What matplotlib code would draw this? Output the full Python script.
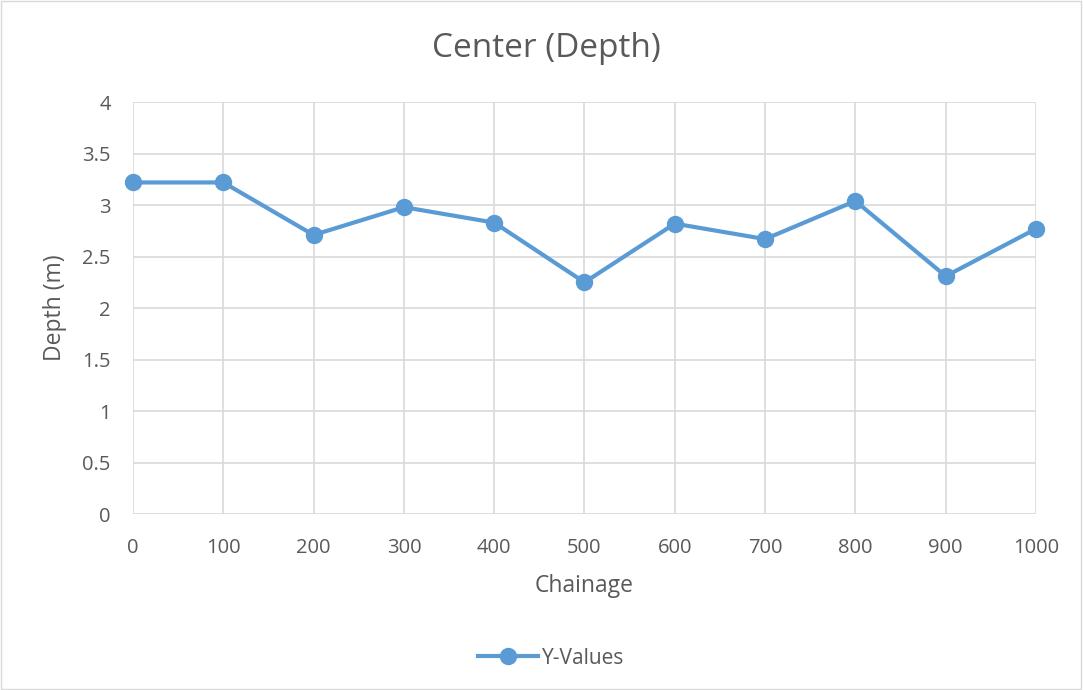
import matplotlib
matplotlib.use("Agg")
import matplotlib.pyplot as plt
from matplotlib.patches import Rectangle

# chart data
chainage = [0, 100, 200, 300, 400, 500, 600, 700, 800, 900, 1000]
depth = [3.22, 3.22, 2.71, 2.98, 2.83, 2.25, 2.82, 2.67, 3.04, 2.31, 2.77]
x_ticks = [0, 100, 200, 300, 400, 500, 600, 700, 800, 900, 1000]
y_ticks = [0, 0.5, 1, 1.5, 2, 2.5, 3, 3.5, 4]

line_color = '#5B9BD5'
text_color = '#595959'
grid_color = '#D9D9D9'

plt.rcParams['font.family'] = ['Open Sans', 'DejaVu Sans']

fig = plt.figure(figsize=(10.83, 6.90), dpi=100)
ax = fig.add_axes([0.1228, 0.255, 0.9566 - 0.1228, 0.852 - 0.255])

ax.plot(chainage, depth, color=line_color, linewidth=3, marker='o',
        markersize=11.5, label='Y-Values', zorder=3, clip_on=False)

ax.set_xlim(0, 1000)
ax.set_ylim(0, 4)
ax.set_xticks(x_ticks)
ax.set_yticks(y_ticks)
ax.set_yticklabels([f"{v:g}" for v in y_ticks])
ax.grid(True, color=grid_color, linewidth=1.2)
ax.set_axisbelow(True)
for s in ax.spines.values():
    s.set_visible(False)
ax.tick_params(length=0, labelsize=14.5, colors=text_color)
ax.tick_params(axis='x', pad=17)
ax.tick_params(axis='y', pad=16)

ax.set_xlabel('Chainage', fontsize=16.5, color=text_color)
ax.set_ylabel('Depth (m)', fontsize=16.5, color=text_color)
ax.xaxis.label.set_va('center')
ax.yaxis.label.set_va('center')
ax.xaxis.set_label_coords(0.5, -0.175)
ax.yaxis.set_label_coords(-0.0864, 0.5)

fig.text(0.5046, 0.930, 'Center (Depth)', fontsize=24, color=text_color,
         ha='center', va='center')

leg = ax.legend(loc='center', bbox_to_anchor=(0.463, -0.35), frameon=False,
                fontsize=15, handlelength=2.9, handletextpad=0.2)
for t in leg.get_texts():
    t.set_color(text_color)

# thin chart-area border
fig.patches.append(Rectangle((0.001, 0.001), 0.997, 0.997, transform=fig.transFigure,
                             fill=False, edgecolor='#D9D9D9', linewidth=1))

fig.savefig('out.png', dpi=100)
